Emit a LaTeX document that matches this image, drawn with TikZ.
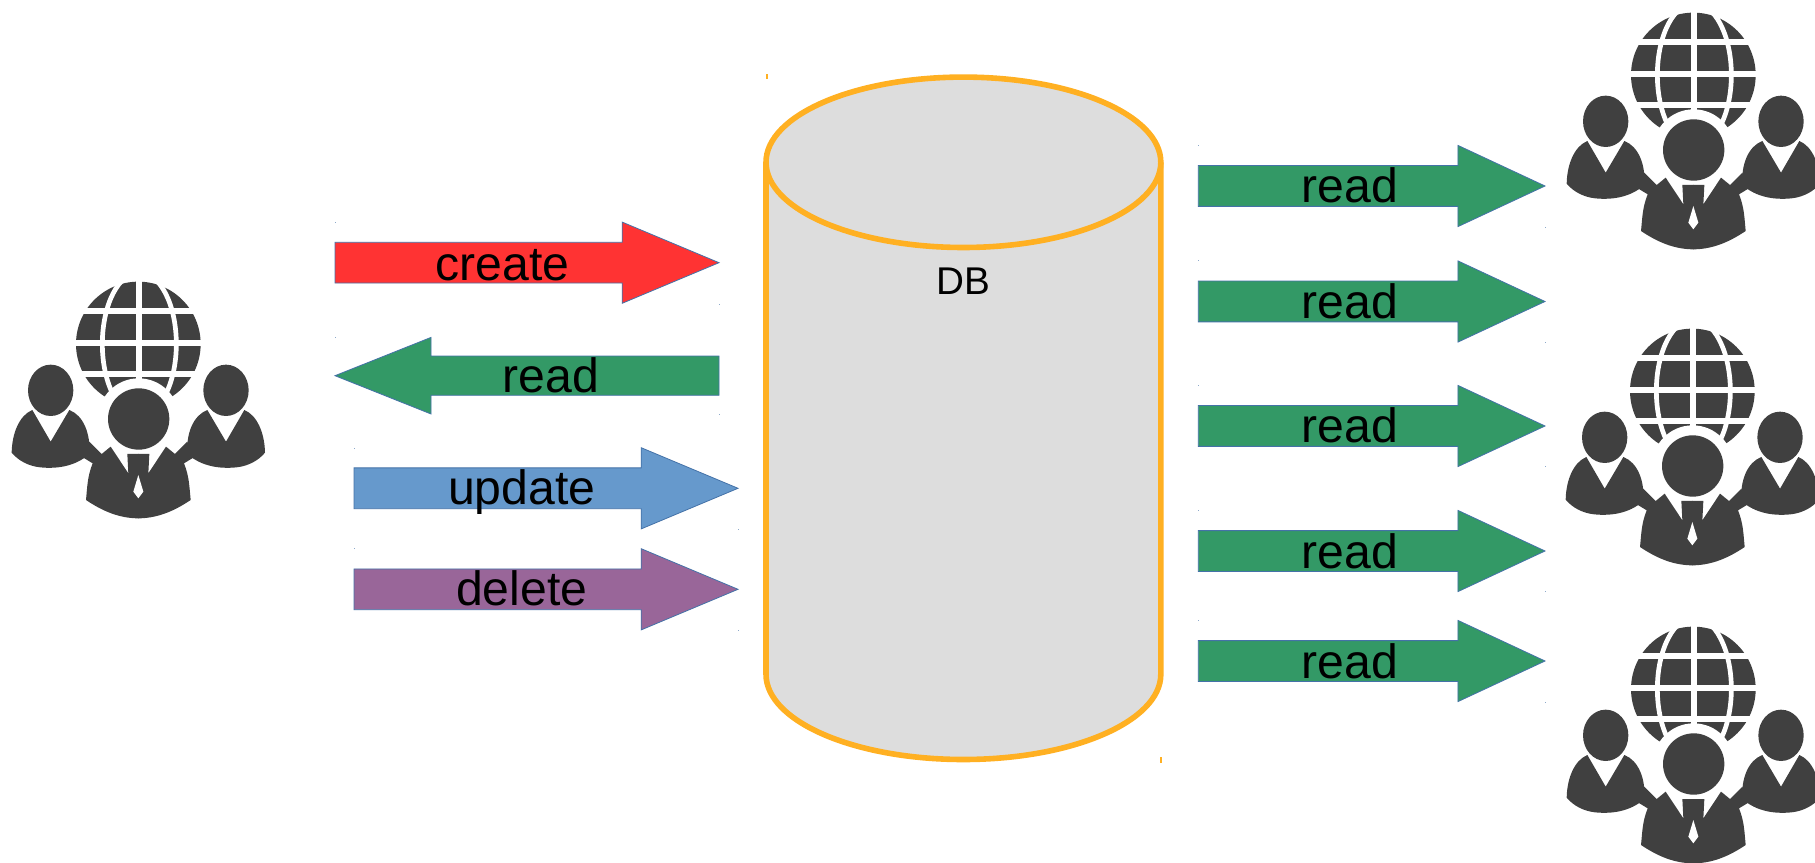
\documentclass[tikz,border=0pt]{standalone}
\usepackage{fontspec}
\setmainfont{Liberation Sans}
\usetikzlibrary{shapes.arrows}
\definecolor{createred}{HTML}{FF3333}
\definecolor{readgreen}{HTML}{339966}
\definecolor{updateblue}{HTML}{6699CC}
\definecolor{deletepurple}{HTML}{996699}
\definecolor{edgeblue}{HTML}{4472A8}
\definecolor{dbgray}{HTML}{DDDDDD}
\definecolor{dborange}{HTML}{FFB022}
\definecolor{icongray}{HTML}{404040}
\tikzset{
  oparrow/.style={shape=single arrow,anchor=tail,draw=edgeblue,line width=.08mm,inner sep=0pt,outer sep=0pt,
    inner ysep=2mm,minimum width=8.05mm,single arrow head extend=2.02mm,single arrow tip angle=45.5,minimum height=38.4mm},
  readarrow/.style={oparrow,fill=readgreen,minimum height=34.67mm,single arrow tip angle=50},
  oplabel/.style={anchor=base,inner sep=0pt,font=\fontsize{13.7}{16}\selectfont},
  speck/.style={fill=edgeblue,opacity=.6},
  dbline/.style={draw=dborange,fill=dbgray,line width=.56mm},
  team/.pic={
    \begin{scope}[scale=1/3]
      % globe
      \fill[icongray] (415,222) circle (187);
      \draw[white,line width=.47mm] (418,222) ellipse (111 and 215);
      \draw[white,line width=.6mm] (418,20)--(418,420);
      \foreach \y in {124,219,311}
        \draw[white,line width=.58mm] (200,\y)--(630,\y);
      \fill[white] (416,447) circle (122);
      % side persons and the two halves of the middle one
      \foreach \ox/\os in {0/1,830/-1}{
        \begin{scope}[shift={(\ox,0)},xscale=\os]
          \fill[icongray] (152,361) ellipse (68 and 77);
          \fill[icongray] (97,420)--(152,515)--(208,420) .. controls (250,436) and (272,490) .. (268,552)
            .. controls (225,590) and (170,597) .. (120,592) .. controls (85,588) and (55,572) .. (35,548)
            .. controls (36,490) and (58,436) .. (97,420)--cycle;
          \fill[icongray] (416,552)--(382,552)--(385,610)--(332,530)--(305,552)--(268,515)--(250,563)--(278,580)
            .. controls (262,620) and (262,650) .. (258,690) .. controls (310,725) and (360,745) .. (416,745)--cycle;
        \end{scope}
      }
      \fill[icongray] (416,447) circle (92);
      \fill[white] (415,615)--(400,665)--(415,685)--(430,665)--cycle;
    \end{scope}
  }
}
\begin{document}
\begin{tikzpicture}[x=.1mm,y=-.1mm]
  \useasboundingbox (0,0) rectangle (1815,863);
  \fill[white] (0,0) rectangle (1815,863);
  % database
  \draw[dbline] (766,162.3)--(766,674.3) arc (180:0:197.4 and 85.2)--(1160.8,162.3);
  \draw[dbline] (963.4,162.3) ellipse (197.4 and 85.2);
  \node[inner sep=0pt,anchor=base,font=\fontsize{11}{13}\selectfont] (dblabel) at (963.4,295) {DB};
  % left arrows
  \node[oparrow,fill=createred] (createarrow) at (335,262.7) {};
  \node[oplabel] (createlabel) at ([shift={(167.7,17.5)}]createarrow.tail) {create};
  \node[oparrow,fill=readgreen,shape border rotate=180,single arrow tip angle=43.5,inner ysep=1.92mm,minimum width=7.6mm,single arrow head extend=1.87mm] (readarrow) at (719,375.7) {};
  \node[oplabel] (readlabel) at ([shift={(-168.3,17.2)}]readarrow.tail) {read};
  \node[oparrow,fill=updateblue] (updatearrow) at (354,488.3) {};
  \node[oplabel] (updatelabel) at ([shift={(167.7,16.5)}]updatearrow.tail) {update};
  \node[oparrow,fill=deletepurple] (deletearrow) at (354,589.3) {};
  \node[oplabel] (deletelabel) at ([shift={(167.7,16.5)}]deletearrow.tail) {delete};
  % right arrows
  \foreach \n/\y in {a/186,b/301.5,c/426,d/551,e/661}{
    \node[readarrow] (read\n) at (1198.3,\y) {};
    \node[oplabel] (readlabel\n) at ([shift={(151.7,17)}]read\n.tail) {read};
  }
  % stray marks left at the corners of the shapes
  \foreach \x/\y in {335/222,719/303.7,335/337,719/414,354/447.7,738/529.3,354/548.3,738/630,
      1198/145,1545/227,1198/260,1545/342,1198/385,1545/466,1198/510,1545/591,1198/620,1545/702}
    \fill[speck] (\x,\y) rectangle ++(1,1);
  \foreach \x/\y in {766/74,1160/757}
    \fill[dborange] (\x,\y) rectangle ++(1.5,5.5);
  % people
  \pic (teamleft) at (0,270) {team};
  \pic (teamtop) at (1555,1) {team};
  \pic (teammiddle) at (1554,317) {team};
  \pic (teambottom) at (1555,615) {team};
\end{tikzpicture}
\end{document}
